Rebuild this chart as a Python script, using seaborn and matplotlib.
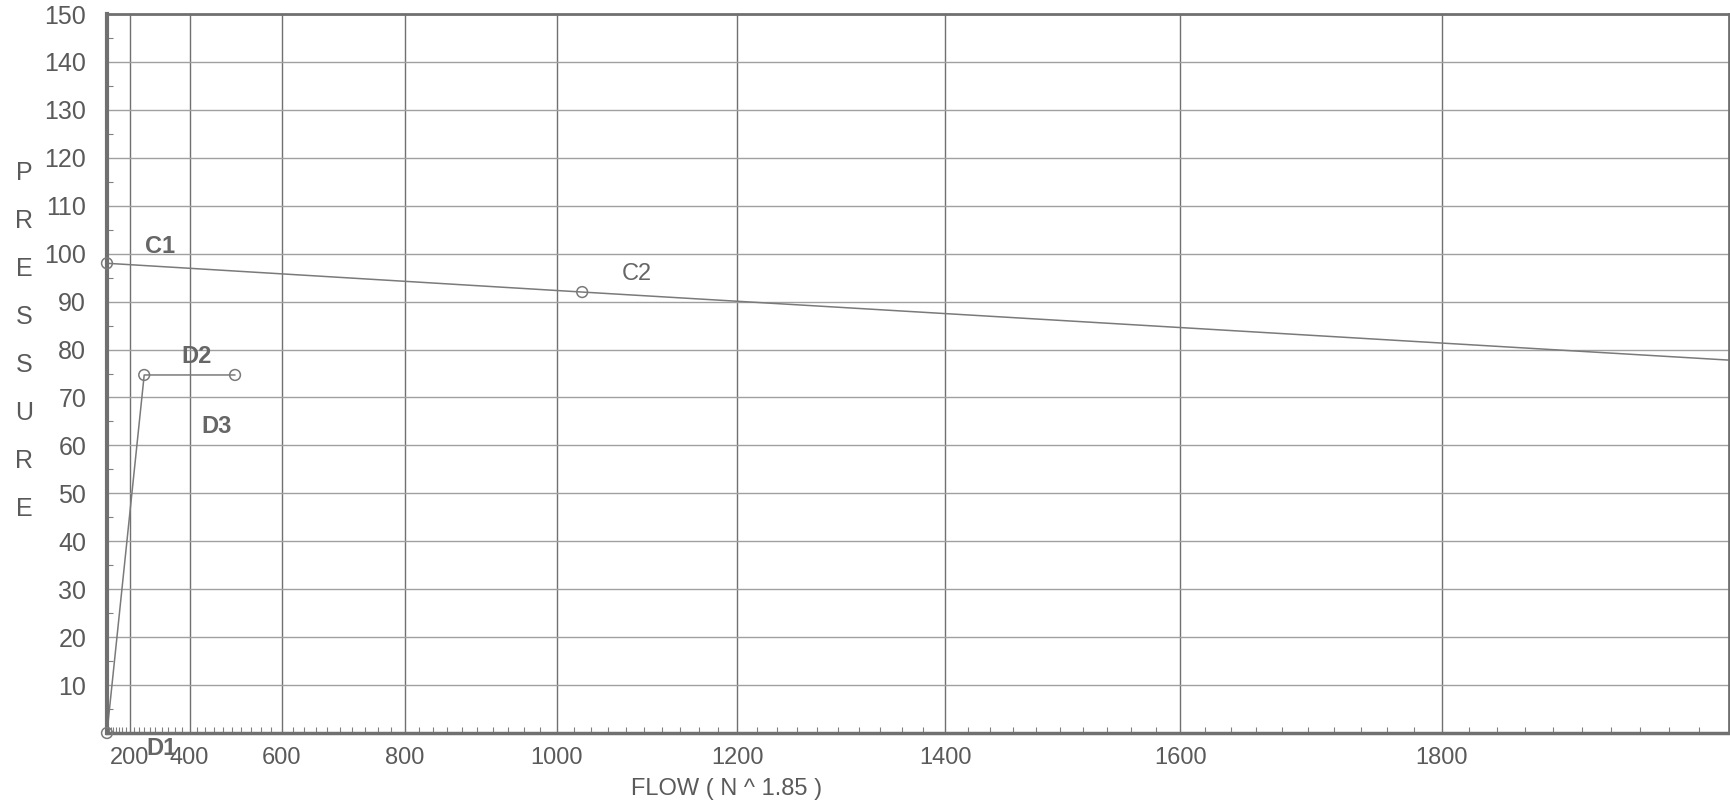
import numpy as np
import pandas as pd
import matplotlib
matplotlib.use("Agg")
import matplotlib.pyplot as plt
import matplotlib.transforms as mtransforms
import seaborn as sns

# water supply curve on N^1.85 paper
node_names = ["C1", "C2", "D1", "D2", "D3"]
node_flow = [0, 1030, 0, 260, 507]
node_pressure = [98, 92, 0, 74.7, 74.7]

supply_flow = [0, 1030, 2000]
supply_pressure = [98, 92, 77.8]

demand_flow = [0, 260, 507]
demand_pressure = [0, 74.7, 74.7]

flow_ticks = [200, 400, 600, 800, 1000, 1200, 1400, 1600, 1800]
pressure_ticks = list(range(0, 151, 10))
axis_letters = list("PRESSURE")

GRAY = "#5a5a5a"
LINE = "#7a7a7a"

sns.set_theme(style="white")
plt.rcParams["font.family"] = ["Liberation Sans", "DejaVu Sans"]

fig = plt.figure(figsize=(17.31, 8.02), dpi=100)
ax = fig.add_axes([0.0618, 0.086, 0.937, 0.8965])

# N^1.85 x-scale
ax.set_xscale("function", functions=(lambda q: np.sign(q) * np.abs(q) ** 1.85,
                                     lambda v: np.sign(v) * np.abs(v) ** (1 / 1.85)))
ax.set_xlim(0, 2000)
ax.set_ylim(0, 150)

supply = pd.DataFrame({"flow": supply_flow, "pressure": supply_pressure})
demand = pd.DataFrame({"flow": demand_flow, "pressure": demand_pressure})
nodes = pd.DataFrame({"name": node_names, "flow": node_flow, "pressure": node_pressure})

sns.lineplot(data=supply, x="flow", y="pressure", sort=False, color=LINE, lw=1.1, ax=ax)
sns.lineplot(data=demand, x="flow", y="pressure", sort=False, color=LINE, lw=1.1, ax=ax)
sns.scatterplot(data=nodes, x="flow", y="pressure", marker="o", s=60,
                facecolor="none", edgecolor=LINE, linewidth=1.1, ax=ax,
                zorder=5, clip_on=False)

# point labels
offsets = {"C1": (38, 12), "C2": (39, 13), "D1": (39, -11), "D2": (38, 13), "D3": (-13, -37)}
for name, q, p in zip(node_names, node_flow, node_pressure):
    ax.annotate(name, (q, p), xytext=offsets[name], textcoords="offset points",
                ha="center", va="center", fontsize=17,
                fontweight="normal" if name == "C2" else "bold",
                color="#666666", annotation_clip=False, zorder=6)

# grid
ax.set_xticks(flow_ticks)
ax.set_xticklabels([str(t) for t in flow_ticks])
ax.set_yticks(pressure_ticks)
ax.set_yticklabels(["" if t == 0 else str(t) for t in pressure_ticks])
ax.set_xticks([q for q in range(20, 2000, 20) if q not in flow_ticks], minor=True)
ax.set_yticks(list(range(5, 150, 10)), minor=True)
ax.xaxis.grid(True, which="major", color="#707070", lw=1.0)
ax.yaxis.grid(True, which="major", color="#a0a0a0", lw=1.0)
ax.tick_params(axis="both", which="major", length=0, labelcolor=GRAY)
ax.tick_params(axis="y", which="major", pad=15, labelsize=18)
ax.tick_params(axis="x", which="major", pad=10, labelsize=17)
ax.tick_params(axis="both", which="minor", direction="in", length=4, color="#808080", width=0.8)
ax.tick_params(axis="x", which="minor", bottom=True)
ax.tick_params(axis="y", which="minor", left=True)

for side, w in [("left", 3), ("bottom", 2.5), ("top", 2), ("right", 2)]:
    ax.spines[side].set_color("#707070")
    ax.spines[side].set_linewidth(w)

ax.set_xlabel("FLOW ( N ^ 1.85 )", fontsize=17, color=GRAY)
ax.xaxis.set_label_coords(0.382, -0.078)
ax.xaxis.label.set_va("center")
ax.set_ylabel("")

# stacked vertical axis title
trans = mtransforms.blended_transform_factory(fig.transFigure, ax.transData)
for i, letter in enumerate(axis_letters):
    ax.text(0.0140, pressure_ticks[12 - i] - 3.2, letter, transform=trans,
            ha="center", va="center", fontsize=18, color=GRAY)

fig.savefig("out.png", dpi=100, facecolor="white")
